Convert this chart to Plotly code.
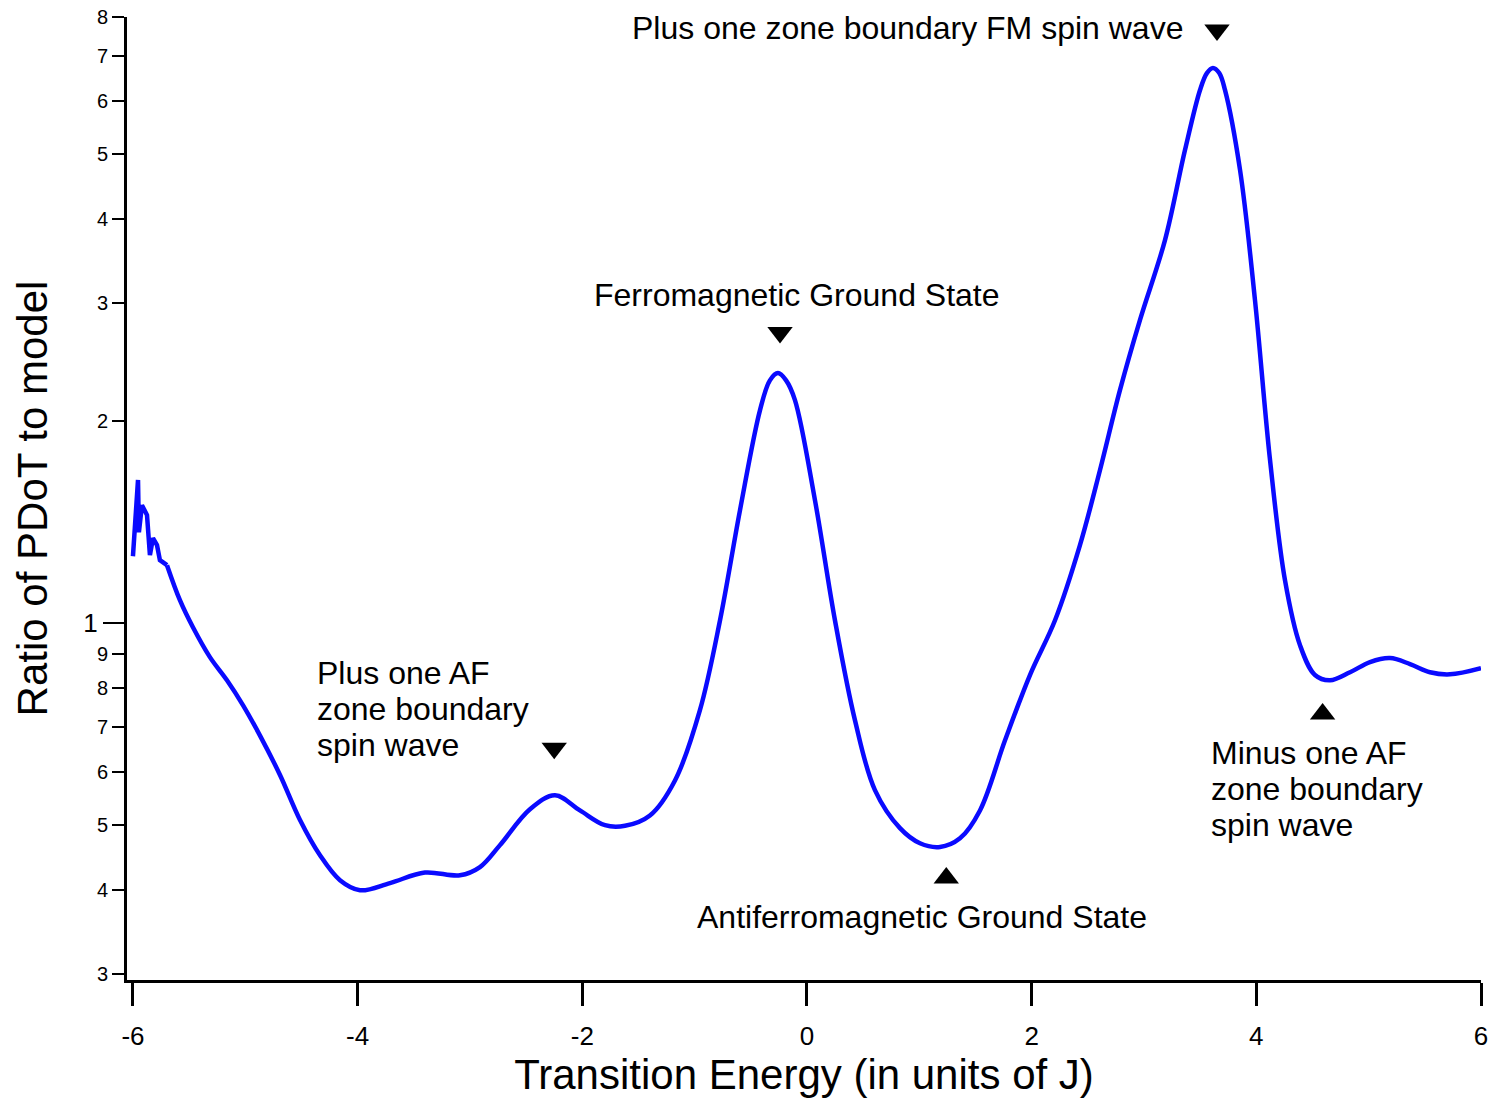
import plotly.graph_objects as go
import numpy as np

# ---- data ----
# noisy start of the curve (near E = -6)
energy_start = [-6.000, -5.964, -5.955, -5.947, -5.920, -5.875, -5.849, -5.822, -5.786, -5.760, -5.697]
ratio_start = [1.258, 1.617, 1.634, 1.366, 1.499, 1.449, 1.263, 1.339, 1.307, 1.241, 1.220]

# smooth part of the curve
energy_main = [-5.697, -5.582, -5.466, -5.315, -5.163, -5.021, -4.869, -4.691, -4.513, -4.335,
               -4.157, -3.979, -3.712, -3.401, -3.089, -2.911, -2.733, -2.466, -2.243, -2.021,
               -1.798, -1.620, -1.398, -1.175, -0.953, -0.774, -0.596, -0.418, -0.330, -0.258,
               -0.186, -0.107, 0.071, 0.249, 0.427, 0.605, 0.828, 1.006, 1.184, 1.362,
               1.540, 1.763, 1.985, 2.208, 2.430, 2.608, 2.786, 2.964, 3.187, 3.365,
               3.499, 3.560, 3.614, 3.670, 3.721, 3.855, 3.988, 4.122, 4.255, 4.389,
               4.522, 4.656, 4.834, 5.012, 5.190, 5.368, 5.546, 5.724, 6.000]
ratio_main = [1.220, 1.082, 0.986, 0.890, 0.822, 0.755, 0.680, 0.594, 0.509, 0.451,
              0.414, 0.400, 0.410, 0.425, 0.421, 0.433, 0.467, 0.528, 0.554, 0.526,
              0.500, 0.499, 0.517, 0.583, 0.742, 1.010, 1.474, 2.077, 2.300, 2.358,
              2.300, 2.149, 1.525, 1.010, 0.717, 0.564, 0.495, 0.470, 0.464, 0.478,
              0.526, 0.669, 0.837, 1.010, 1.307, 1.690, 2.224, 2.828, 3.722, 5.069,
              6.229, 6.600, 6.717, 6.600, 6.229, 4.733, 3.029, 1.750, 1.159, 0.927,
              0.837, 0.822, 0.845, 0.875, 0.887, 0.869, 0.845, 0.839, 0.857]

# marker triangles
down_x = [3.65, -0.24, -2.25]
down_y = [7.65, 2.71, 0.651]
up_x = [1.24, 4.59]
up_y = [0.417, 0.732]

x_ticks = [-6, -4, -2, 0, 2, 4, 6]
y_minor_vals = [0.3, 0.4, 0.5, 0.6, 0.7, 0.8, 0.9, 2, 3, 4, 5, 6, 7, 8]
y_minor_text = ["3", "4", "5", "6", "7", "8", "9", "2", "3", "4", "5", "6", "7", "8"]

FONT = "Liberation Sans, Arial, sans-serif"
BLUE = "#0a0aff"

fig = go.Figure()
fig.add_trace(go.Scatter(x=energy_start, y=ratio_start, mode="lines",
                         line=dict(color=BLUE, width=4.5), showlegend=False, hoverinfo="skip"))
fig.add_trace(go.Scatter(x=energy_main, y=ratio_main, mode="lines",
                         line=dict(color=BLUE, width=4.5, shape="spline", smoothing=1.0),
                         showlegend=False))
fig.add_trace(go.Scatter(x=down_x, y=down_y, mode="markers",
                         marker=dict(symbol="triangle-down", size=22, color="black"),
                         showlegend=False))
fig.add_trace(go.Scatter(x=up_x, y=up_y, mode="markers",
                         marker=dict(symbol="triangle-up", size=22, color="black"),
                         showlegend=False))
# invisible helper trace so the secondary (major-tick) y axis is drawn
fig.add_trace(go.Scatter(x=[None], y=[None], yaxis="y2", mode="markers",
                         showlegend=False, hoverinfo="skip"))

yrange = [np.log10(0.294), np.log10(8)]

fig.update_layout(
    width=1491, height=1099,
    margin=dict(l=127, r=10, t=17, b=119),
    paper_bgcolor="white", plot_bgcolor="white",
    font=dict(family=FONT, color="black"),
    xaxis=dict(range=[-6.053, 6], tickvals=x_ticks, ticktext=[str(v) for v in x_ticks],
               showline=True, linecolor="black", linewidth=3, ticks="outside",
               ticklen=23, tickwidth=3, tickcolor="black", showgrid=False, zeroline=False,
               tickfont=dict(size=26, family=FONT), ticklabelstandoff=8, automargin=False,
               title=dict(text="Transition Energy (in units of J)", font=dict(size=42, family=FONT),
                          standoff=8)),
    yaxis=dict(type="log", range=yrange, tickvals=y_minor_vals, ticktext=y_minor_text,
               showline=True, linecolor="black", linewidth=3, ticks="outside",
               ticklen=12, tickwidth=2, tickcolor="black", showgrid=False, zeroline=False,
               tickfont=dict(size=20, family=FONT), automargin=False,
               title=dict(text="Ratio of PDoT to model", font=dict(size=42, family=FONT),
                          standoff=37)),
    yaxis2=dict(type="log", range=yrange, overlaying="y", side="left", anchor="x",
                tickvals=[1], ticktext=["1"], ticks="outside", ticklen=23, tickwidth=2,
                tickcolor="black", showline=False, showgrid=False, zeroline=False,
                tickfont=dict(size=26, family=FONT), automargin=False),
)

def note(text, x, y, xanchor="left"):
    fig.add_annotation(x=x, y=np.log10(y), xref="x", yref="y", text=text, showarrow=False,
                       xanchor=xanchor, yanchor="middle", font=dict(size=32, family=FONT, color="black"))

note("Plus one zone boundary FM spin wave", -1.576, 7.70)
note("Ferromagnetic Ground State", -0.089, 3.083, "center")
note("Plus one AF", -4.380, 0.842)
note("zone boundary", -4.380, 0.744)
note("spin wave", -4.380, 0.658)
note("Antiferromagnetic Ground State", 1.024, 0.3646, "center")
note("Minus one AF", 3.579, 0.640)
note("zone boundary", 3.579, 0.566)
note("spin wave", 3.579, 0.500)

fig.write_html("out.html", config={"displayModeBar": False},
               post_script="document.body.style.margin='0px';document.body.style.overflow='hidden';")
